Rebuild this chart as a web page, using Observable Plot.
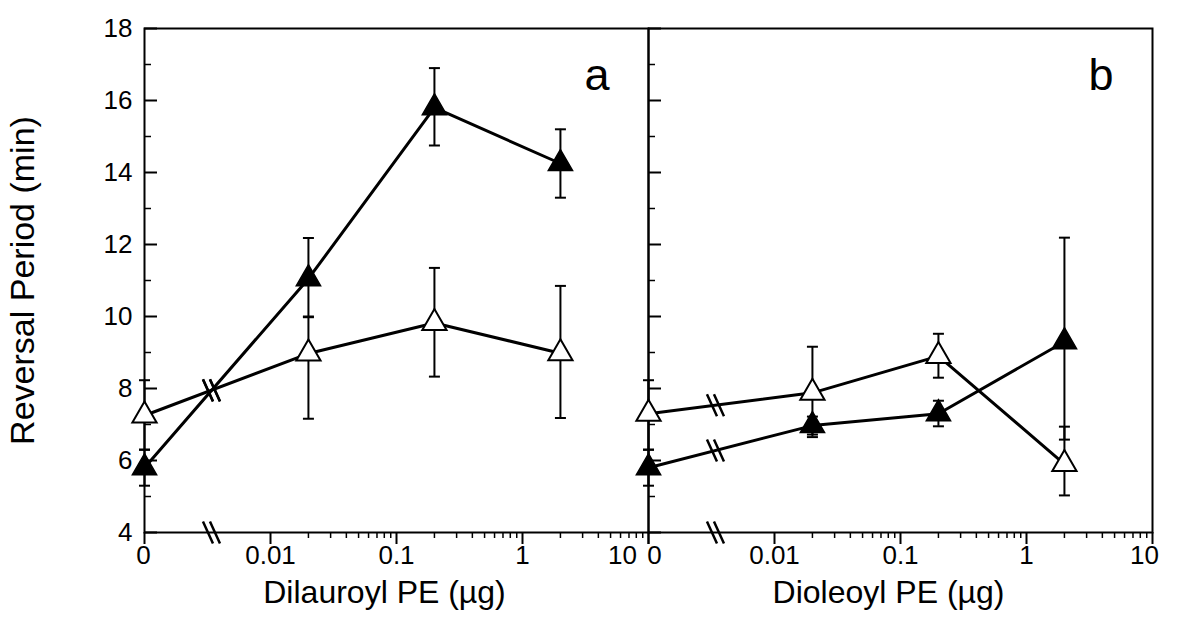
<!DOCTYPE html>
<html><head><meta charset="utf-8">
<script src="https://cdn.jsdelivr.net/npm/d3@7"></script>
<script src="https://cdn.jsdelivr.net/npm/@observablehq/plot@0.6"></script>
<style>body{margin:0;background:#fff}#chart{width:1180px;height:637px}</style>
</head><body><div id="chart"></div>
<script>
// ---- data ----
const panels = ["a", "b"];
const xTitles = ["Dilauroyl PE (µg)", "Dioleoyl PE (µg)"];
const yTitle = "Reversal Period (min)";
const doses = [0, 0.02, 0.2, 2];
const zeroPos = 0.001;   // axis position labelled "0"
const breakPos = 0.0034; // axis break position
const xMajorTicks = [0.001, 0.01, 0.1, 1, 10];
const xMajorLabels = ["0", "0.01", "0.1", "1", "10"];
const xMinorTicks = [0.02,0.03,0.04,0.05,0.06,0.07,0.08,0.09,0.2,0.3,0.4,0.5,0.6,0.7,0.8,0.9,2,3,4,5,6,7,8,9];
const yMajorTicks = [4, 6, 8, 10, 12, 14, 16, 18];
const yMinorTicks = [5, 7, 9, 11, 13, 15, 17];

// Panel a: Dilauroyl PE
const aFilledMean = [5.8, 11.05, 15.8, 14.25];
const aFilledLo   = [5.3, 9.98, 14.75, 13.3];
const aFilledHi   = [6.3, 12.18, 16.9, 15.2];
const aOpenMean   = [7.25, 8.97, 9.82, 8.98];
const aOpenLo     = [6.3, 7.16, 8.33, 7.18];
const aOpenHi     = [8.23, 10.0, 11.35, 10.85];
// Panel b: Dioleoyl PE
const bFilledMean = [5.8, 6.97, 7.3, 9.3];
const bFilledLo   = [5.3, 6.72, 6.95, 6.58];
const bFilledHi   = [6.3, 7.22, 7.66, 12.19];
const bOpenMean   = [7.3, 7.88, 8.9, 5.9];
const bOpenLo     = [6.3, 6.65, 8.3, 5.03];
const bOpenHi     = [8.23, 9.16, 9.52, 6.94];

// ---- build table ----
const seriesDefs = [
  ["a", "filled", aFilledMean, aFilledLo, aFilledHi],
  ["a", "open",   aOpenMean,   aOpenLo,   aOpenHi],
  ["b", "filled", bFilledMean, bFilledLo, bFilledHi],
  ["b", "open",   bOpenMean,   bOpenLo,   bOpenHi]
];
const rows = [];
for (const [panel, series, m, lo, hi] of seriesDefs) {
  doses.forEach((d, i) => rows.push({panel, series, key: panel + series,
    x: d === 0 ? zeroPos : d, y: m[i], lo: lo[i], hi: hi[i]}));
}
// break marks: where each line crosses the axis break (linear in log-x)
const breaks = [];
for (const [panel, series, m] of seriesDefs) {
  const x0 = Math.log10(zeroPos), x1 = Math.log10(doses[1]), xb = Math.log10(breakPos);
  breaks.push({panel, x: breakPos, y: m[0] + (m[1] - m[0]) * (xb - x0) / (x1 - x0)});
}
panels.forEach(p => breaks.push({panel: p, x: breakPos, y: 4}));

const capSymbol = {draw(ctx) { ctx.moveTo(-5.5, 0); ctx.lineTo(5.5, 0); }};
const breakSymbol = {draw(ctx) {
  for (const o of [-3.5, 3.5]) { ctx.moveTo(o - 5, -11); ctx.lineTo(o + 5, 11); }
}};

const panelRows = panels.map((p, i) => ({panel: p, title: xTitles[i]}));
const tickFont = 26;
const endLabel = (panel, x, text, dx) =>
  Plot.text([{panel, x, text}], {fx: "panel", x: "x", text: "text", frameAnchor: "bottom",
    dy: 13, dx, lineAnchor: "top", fontSize: tickFont, fill: "black"});

const chart = Plot.plot({
  width: 1180, height: 637,
  marginLeft: 143, marginRight: 28, marginTop: 28, marginBottom: 105,
  style: {fontFamily: "'Liberation Sans', Arial, sans-serif", color: "black", background: "white"},
  x: {type: "log", domain: [0.001, 10]},
  y: {domain: [4, 18]},
  fx: {domain: panels, padding: 0, axis: null},
  marks: [
    // axes
    Plot.axisX({ticks: xMajorTicks, tickSize: 12, strokeWidth: 2, fill: "none", label: null}),
    Plot.axisX({ticks: xMinorTicks, tickSize: 6, strokeWidth: 1.5, fill: "none", label: null}),
    Plot.axisX({ticks: xMajorTicks.slice(1, 4), tickSize: 0, tickPadding: 13, fontSize: tickFont,
      tickFormat: d => xMajorLabels[xMajorTicks.indexOf(d)], label: null}),
    endLabel("a", xMajorTicks[0], xMajorLabels[0], -1),
    endLabel("a", xMajorTicks[4], xMajorLabels[4], -26),
    endLabel("b", xMajorTicks[0], xMajorLabels[0], 6),
    endLabel("b", xMajorTicks[4], xMajorLabels[4], -8),
    Plot.axisY({ticks: yMajorTicks, tickSize: 13, dx: 13, strokeWidth: 2, fill: "none", facetAnchor: null, label: null}),
    Plot.axisY({ticks: yMinorTicks, tickSize: 7, dx: 7, strokeWidth: 1.5, fill: "none", facetAnchor: null, label: null}),
    Plot.axisY({ticks: yMajorTicks, tickSize: 0, tickPadding: 12, fontSize: tickFont, label: null}),
    Plot.frame({stroke: "black", strokeWidth: 2}),
    // titles
    Plot.text(panelRows, {fx: "panel", text: "title", frameAnchor: "bottom", dy: 70, dx: -12, fontSize: 32, fill: "black"}),
    Plot.text([{panel: "a", t: yTitle}], {fx: "panel", text: "t", frameAnchor: "left", textAnchor: "middle", dx: -121, rotate: -90, fontSize: 34, fill: "black"}),
    Plot.text(panelRows, {fx: "panel", text: "panel", frameAnchor: "top-right", dx: -39, dy: 30, fontSize: 45, fill: "black"}),
    // error bars
    Plot.ruleX(rows, {fx: "panel", x: "x", y1: "lo", y2: "hi", stroke: "black", strokeWidth: 2}),
    Plot.dot(rows, {fx: "panel", x: "x", y: "lo", symbol: capSymbol, stroke: "black", strokeWidth: 2}),
    Plot.dot(rows, {fx: "panel", x: "x", y: "hi", symbol: capSymbol, stroke: "black", strokeWidth: 2}),
    // lines
    Plot.line(rows, {fx: "panel", x: "x", y: "y", z: "key", stroke: "black", strokeWidth: 3}),
    Plot.dot(breaks, {fx: "panel", x: "x", y: "y", symbol: breakSymbol, stroke: "black", strokeWidth: 2.5, fill: "none"}),
    // markers
    Plot.dot(rows.filter(d => d.series === "open"), {fx: "panel", x: "x", y: "y", symbol: "triangle", r: 9, fill: "white", stroke: "black", strokeWidth: 2}),
    Plot.dot(rows.filter(d => d.series === "filled"), {fx: "panel", x: "x", y: "y", symbol: "triangle", r: 9, fill: "black", stroke: "black", strokeWidth: 1.5})
  ]
});
document.getElementById("chart").appendChild(chart);
</script>
</body></html>
